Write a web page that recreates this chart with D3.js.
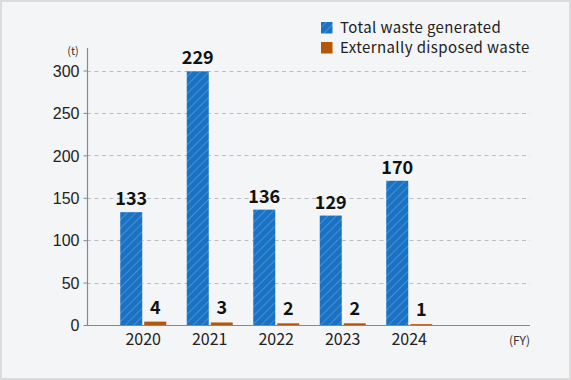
<!DOCTYPE html>
<html><head><meta charset="utf-8">
<script src="https://cdn.jsdelivr.net/npm/d3@7/dist/d3.min.js"></script>
<style>
html,body{margin:0;padding:0;background:#fff;}
svg{display:block;font-family:"Noto Sans CJK JP","Noto Sans",sans-serif;}
</style></head>
<body>
<script>
const years = ["2020","2021","2022","2023","2024"];
const totalValues = [133, 299, 136, 129, 170];
const totalLabels = ["133","229","136","129","170"];
const externalValues = [4, 3, 2, 2, 1];
const externalLabels = ["4","3","2","2","1"];
const yTicks = [0, 50, 100, 150, 200, 250, 300];
const seriesNames = ["Total waste generated", "Externally disposed waste"];

const W = 571, H = 380;
const svg = d3.select("body").append("svg").attr("width", W).attr("height", H);

const defs = svg.append("defs");
const pat = defs.append("pattern").attr("id","hatch").attr("patternUnits","userSpaceOnUse")
  .attr("width",6).attr("height",6).attr("patternTransform","rotate(45)");
pat.append("rect").attr("width",6).attr("height",6).attr("fill","#1a72c4");
pat.append("line").attr("x1",0).attr("y1",0).attr("x2",0).attr("y2",6)
  .attr("stroke","#6fa8dc").attr("stroke-width",1.1);

svg.append("rect").attr("x",1).attr("y",1).attr("width",W-2).attr("height",H-2)
  .attr("fill","#f4f5f7").attr("stroke","#dcdcdc").attr("stroke-width",2);

const y = d3.scaleLinear().domain([0,300]).range([325,70.5]);
const x = d3.scaleBand().domain(years).range([110,442.5]).padding(0);
const axisX0 = 87, axisX1 = 530;

// gridlines
svg.append("g").selectAll("line").data(yTicks.filter(d=>d>0)).join("line")
  .attr("x1",axisX0).attr("x2",axisX1)
  .attr("y1",d=>Math.round(y(d))+0.5).attr("y2",d=>Math.round(y(d))+0.5)
  .attr("stroke","#bdbdbd").attr("stroke-width",1).attr("stroke-dasharray","4,3.5");

// y axis
const yAxis = d3.axisLeft(y).tickValues(yTicks).tickSize(4).tickPadding(4);
const gy = svg.append("g").attr("transform",`translate(${axisX0+0.5},0)`).call(yAxis);
gy.select(".domain").remove();
gy.selectAll(".tick line").attr("stroke","#888");
gy.selectAll(".tick text").attr("font-size",16).attr("fill","#222").attr("dy","0.36em");
svg.append("line").attr("x1",axisX0+0.5).attr("x2",axisX0+0.5).attr("y1",48).attr("y2",325)
  .attr("stroke","#888").attr("stroke-width",1.2);

// bars
const bw = 22, gap = 2;
const groups = svg.append("g").selectAll("g").data(years).join("g");
groups.append("rect")
  .attr("x",(d)=>x(d)+x.bandwidth()/2-gap/2-bw)
  .attr("y",(d,i)=>y(totalValues[i]))
  .attr("width",bw)
  .attr("height",(d,i)=>y(0)-y(totalValues[i]))
  .attr("fill","url(#hatch)");
groups.append("rect")
  .attr("x",(d)=>x(d)+x.bandwidth()/2+gap/2)
  .attr("y",(d,i)=>y(externalValues[i]))
  .attr("width",bw)
  .attr("height",(d,i)=>y(0)-y(externalValues[i]))
  .attr("fill","#b5560c");
groups.append("text")
  .attr("x",(d)=>x(d)+x.bandwidth()/2-gap/2-bw/2)
  .attr("y",(d,i)=>y(totalValues[i])-7)
  .attr("text-anchor","middle").attr("font-size",18).attr("font-weight","bold").attr("fill","#111")
  .text((d,i)=>totalLabels[i]);
groups.append("text")
  .attr("x",(d)=>x(d)+x.bandwidth()/2+gap/2+bw/2)
  .attr("y",(d,i)=>y(externalValues[i])-8)
  .attr("text-anchor","middle").attr("font-size",18).attr("font-weight","bold").attr("fill","#111")
  .text((d,i)=>externalLabels[i]);

// x axis
svg.append("line").attr("x1",axisX0).attr("x2",axisX1).attr("y1",325.5).attr("y2",325.5)
  .attr("stroke","#888").attr("stroke-width",1.2);
svg.append("g").selectAll("text").data(years).join("text")
  .attr("x",d=>x(d)+x.bandwidth()/2).attr("y",345)
  .attr("text-anchor","middle").attr("font-size",16).attr("fill","#222").text(d=>d);

svg.append("text").attr("x",530).attr("y",345).attr("text-anchor","end")
  .attr("font-size",12).attr("fill","#333").text("(FY)");
svg.append("text").attr("x",73).attr("y",55).attr("text-anchor","middle")
  .attr("font-size",11).attr("fill","#333").text("(t)");

// legend
const legend = svg.append("g");
const legColors = ["url(#hatch)","#b5560c"];
seriesNames.forEach((name,i)=>{
  legend.append("rect").attr("x",321).attr("y",22+i*20).attr("width",11.5).attr("height",11.5)
    .attr("fill",legColors[i]);
  legend.append("text").attr("x",340).attr("y",33+i*20).attr("font-size",15)
    .attr("letter-spacing",0.4).attr("fill","#222").text(name);
});
</script>
</body></html>
